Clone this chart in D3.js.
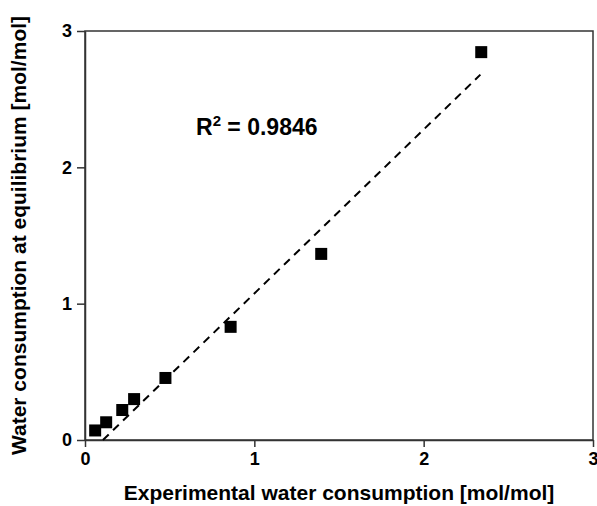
<!DOCTYPE html>
<html>
<head>
    <meta charset="utf-8">
    <script src="https://d3js.org/d3.v7.min.js"></script>
    <style>
        body { margin: 0; background: #fff; }
        text { font-family: "Liberation Sans", Arial, sans-serif; font-weight: bold; fill: #000; }
        .axis path, .axis line { stroke: #333; stroke-width: 1.5px; }
        .axis text { font-size: 18px; font-family: "Liberation Sans", Arial, sans-serif; font-weight: bold; }
    </style>
</head>
<body>
    <svg width="597" height="506"></svg>
    <script>
        // measured points
        var expX = [0.06, 0.125, 0.22, 0.29, 0.475, 0.86, 1.395, 2.34];
        var eqY = [0.07, 0.13, 0.22, 0.30, 0.455, 0.83, 1.365, 2.845];
        // dashed fit line end points
        var fitX = [0.106, 2.335];
        var fitY = [0, 2.68];
        var xTicks = [0, 1, 2, 3];
        var yTicks = [0, 1, 2, 3];

        var svg = d3.select("svg");
        var mLeft = 85, mRight = 593, mTop = 31, mBottom = 440;

        var x = d3.scaleLinear().domain([0, 3]).range([mLeft, mRight]);
        var y = d3.scaleLinear().domain([0, 3]).range([mBottom, mTop]);

        // frame
        svg.append("rect")
            .attr("x", mLeft).attr("y", mTop)
            .attr("width", mRight - mLeft).attr("height", mBottom - mTop)
            .attr("fill", "none").attr("stroke", "#333").attr("stroke-width", 1.5);

        svg.append("g")
            .attr("class", "axis")
            .attr("transform", `translate(0,${mBottom})`)
            .call(d3.axisBottom(x).tickValues(xTicks).tickFormat(d3.format("d")).tickSize(7).tickSizeOuter(0).tickPadding(5));

        svg.append("g")
            .attr("class", "axis")
            .attr("transform", `translate(${mLeft},0)`)
            .call(d3.axisLeft(y).tickValues(yTicks).tickFormat(d3.format("d")).tickSize(8).tickSizeOuter(0).tickPadding(5));

        // fit line
        var fit = fitX.map((d, i) => [d, fitY[i]]);
        svg.append("path")
            .datum(fit)
            .attr("d", d3.line().x(d => x(d[0])).y(d => y(d[1])))
            .attr("stroke", "#000").attr("stroke-width", 2)
            .attr("stroke-dasharray", "8,6").attr("fill", "none");

        // points
        var pts = expX.map((d, i) => ({ x: d, y: eqY[i] }));
        svg.append("g").selectAll("rect")
            .data(pts)
            .enter().append("rect")
            .attr("x", d => x(d.x) - 6)
            .attr("y", d => y(d.y) - 6)
            .attr("width", 12).attr("height", 12)
            .attr("fill", "#000");

        // R squared label
        var r2 = svg.append("text")
            .attr("x", 196).attr("y", 135)
            .style("font-size", "23px");
        r2.append("tspan").text("R");
        r2.append("tspan").attr("dy", -9).style("font-size", "15px").text("2");
        r2.append("tspan").attr("dy", 9).text(" = 0.9846");

        svg.append("text")
            .attr("x", 339).attr("y", 500)
            .attr("text-anchor", "middle")
            .style("font-size", "21px")
            .text("Experimental water consumption [mol/mol]");

        svg.append("text")
            .attr("transform", `translate(26,${(mTop + mBottom) / 2}) rotate(-90)`)
            .attr("text-anchor", "middle")
            .style("font-size", "21px")
            .text("Water consumption at equilibrium [mol/mol]");
    </script>
</body>
</html>
